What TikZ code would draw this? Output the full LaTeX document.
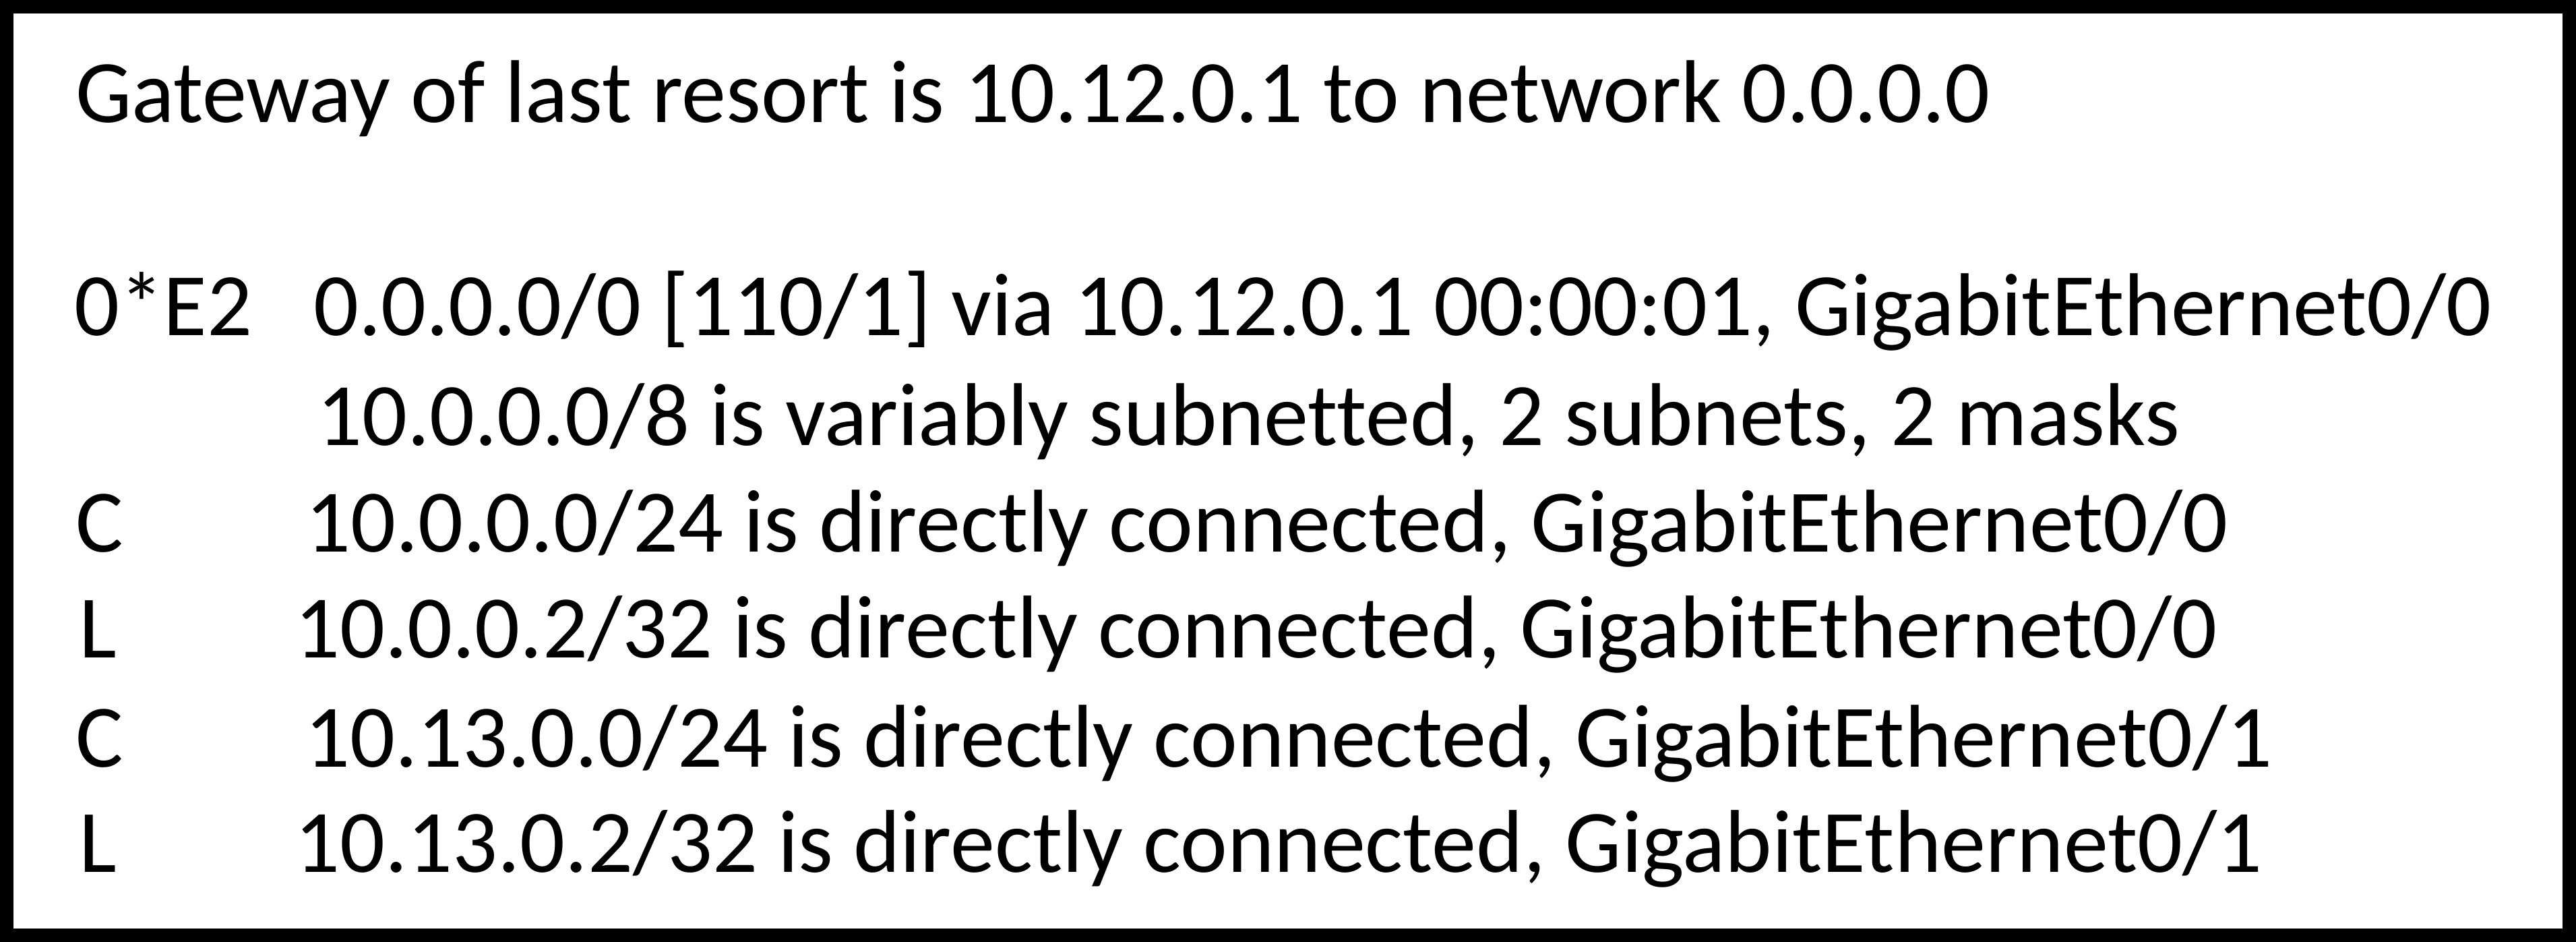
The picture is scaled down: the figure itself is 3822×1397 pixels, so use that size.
\documentclass[tikz,border=0pt]{standalone}
\usepackage{fontspec}
\setmainfont[Ligatures={NoCommon}]{Carlito}
\begin{document}
\begin{tikzpicture}[x=0.2pt,y=-0.2pt,
  txt/.style={anchor=base west,inner sep=0pt,outer sep=0pt,font=\fontsize{26.45pt}{32pt}\selectfont},
  frame/.style={draw=black,line width=4pt,fill=white}]
\useasboundingbox (0,0) rectangle (3822,1397);
\draw[frame] (10,10) rectangle (3812,1387);
\node[txt] (gw) at (112,182) {Gateway of last resort is 10.12.0.1 to network 0.0.0.0};
\node[txt] (c1) at (110,498) {0*E2};
\node[txt] (t1) at (465,498) {0.0.0.0/0 [110/1] via 10.12.0.1 00:00:01, GigabitEthernet0/0};
\node[txt] (t2) at (470,660) {10.0.0.0/8 is variably subnetted, 2 subnets, 2 masks};
\node[txt] (c3) at (112,818) {C};
\node[txt] (t3) at (453,818) {10.0.0.0/24 is directly connected, GigabitEthernet0/0};
\node[txt] (c4) at (117,975) {L};
\node[txt] (t4) at (437,975) {10.0.0.2/32 is directly connected, GigabitEthernet0/0};
\node[txt] (c5) at (112,1137) {C};
\node[txt] (t5) at (452,1137) {10.13.0.0/24 is directly connected, GigabitEthernet0/1};
\node[txt] (c6) at (117,1293) {L};
\node[txt] (t6) at (437,1293) {10.13.0.2/32 is directly connected, GigabitEthernet0/1};
\end{tikzpicture}
\end{document}
